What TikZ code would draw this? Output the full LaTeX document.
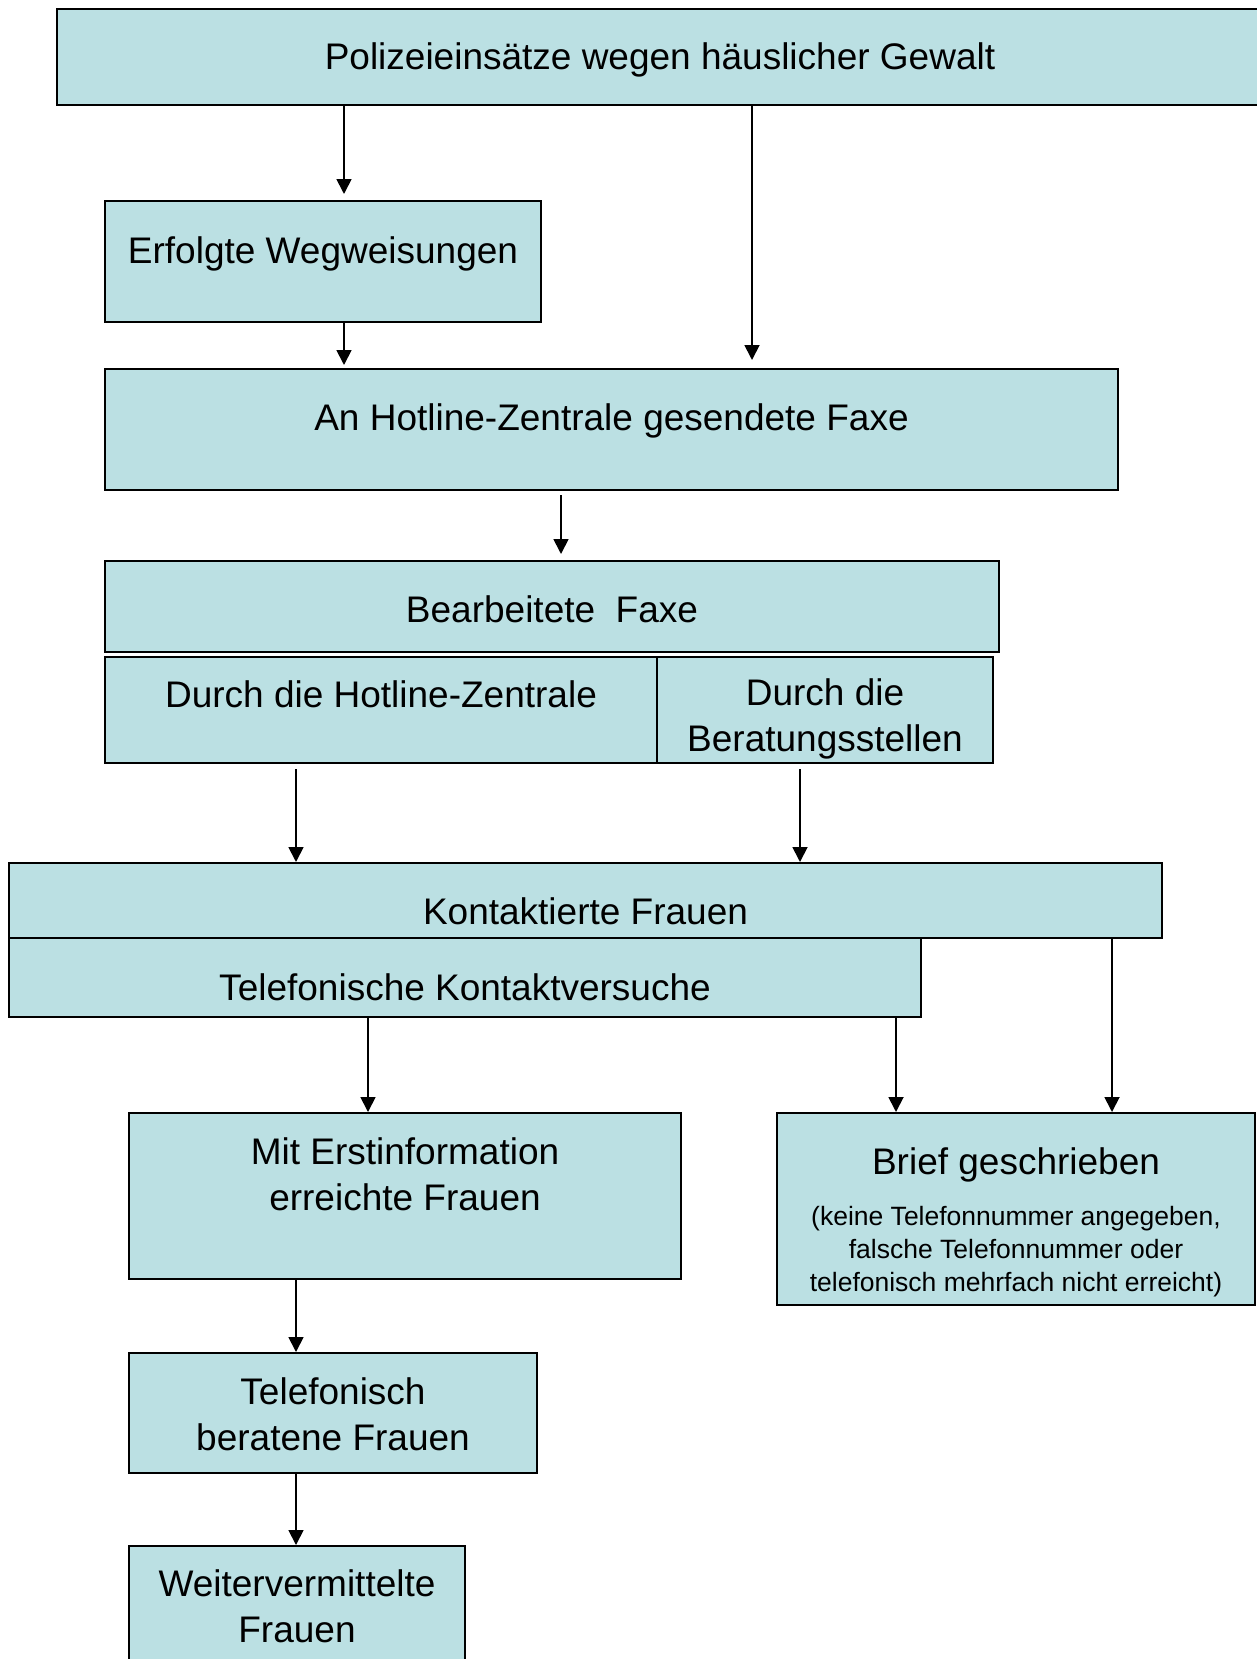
\documentclass[tikz,border=0pt]{standalone}
\usepackage{fontspec}
\setmainfont{Liberation Sans}
\usetikzlibrary{arrows.meta}
\definecolor{boxfill}{RGB}{187,224,227}
\newcommand{\boxfont}{\fontsize{37}{46}\selectfont}
\newcommand{\notefont}{\fontsize{26.5}{33}\selectfont}
\tikzstyle{box} = [rectangle, draw=black, line width=2pt, fill=boxfill, inner sep=0pt, anchor=north west, align=center, font=\boxfont]
\tikzstyle{arrow} = [line width=1.8pt, -{Triangle[length=15pt,width=15pt]}]

\begin{document}
\begin{tikzpicture}[x=1pt, y=-1pt]
   \useasboundingbox (0,0) rectangle (1256,1659);
   \node (einsatz) [box, minimum width=1206pt, minimum height=96pt, text height=61pt, text depth=35pt] at (56,8) {Polizeieinsätze wegen häuslicher Gewalt};
   \node (wegweis) [box, minimum width=436pt, minimum height=121pt, text height=62pt, text depth=59pt] at (104,200) {Erfolgte Wegweisungen};
   \node (faxe) [box, minimum width=1013pt, minimum height=121pt, text height=61pt, text depth=60pt] at (104,368) {An Hotline-Zentrale gesendete Faxe};
   \node (bearb) [box, minimum width=894pt, minimum height=91pt, text height=61pt, text depth=30pt] at (104,560) {Bearbeitete\ \ Faxe};
   \node (hotline) [box, minimum width=552pt, minimum height=106pt, text height=50pt, text depth=56pt] at (104,656) {Durch die Hotline-Zentrale};
   \node (beratung) [box, minimum width=336pt, minimum height=106pt, text height=94pt, text depth=12pt] at (656,656) {Durch die\\Beratungsstellen};
   \node (kontakt) [box, minimum width=1153pt, minimum height=75pt, text height=61pt, text depth=14pt] at (8,862) {Kontaktierte Frauen};
   \node (telkont) [box, minimum width=912pt, minimum height=79pt, text height=62pt, text depth=17pt] at (8,937) {Telefonische Kontaktversuche};
   \node (erst) [box, minimum width=552pt, minimum height=166pt, text height=97pt, text depth=69pt] at (128,1112) {Mit Erstinformation\\erreichte Frauen};
   \node (brief) [box, align=flush center, minimum width=478pt, minimum height=192pt, text width=470pt, text height=61pt, text depth=131pt] at (776,1112)
      {Brief geschrieben\par\vspace{18pt}{\notefont (keine Telefonnummer angegeben,\\falsche Telefonnummer oder\\telefonisch mehrfach nicht erreicht)\par}};
   \node (telber) [box, minimum width=408pt, minimum height=120pt, text height=97pt, text depth=23pt] at (128,1352) {Telefonisch\\beratene Frauen};
   \node (weiter) [box, minimum width=336pt, minimum height=140pt, text height=96pt, text depth=44pt] at (128,1545) {Weitervermittelte\\Frauen};

   \draw [arrow, shorten >=6pt] (einsatz.south -| 344,0) -- (wegweis.north -| 344,0);
   \draw [arrow, shorten >=8pt] (einsatz.south -| 752,0) -- (faxe.north -| 752,0);
   \draw [arrow, shorten >=3pt] (wegweis.south -| 344,0) -- (faxe.north -| 344,0);
   \draw [arrow, shorten <=4pt, shorten >=6pt] (faxe.south -| 561,0) -- (bearb.north -| 561,0);
   \draw [arrow, shorten <=5pt] (hotline.south -| 296,0) -- (kontakt.north -| 296,0);
   \draw [arrow, shorten <=5pt] (beratung.south -| 800,0) -- (kontakt.north -| 800,0);
   \draw [arrow] (telkont.south -| 368,0) -- (erst.north -| 368,0);
   \draw [arrow] (telkont.south -| 896,0) -- (brief.north -| 896,0);
   \draw [arrow] (kontakt.south -| 1112,0) -- (brief.north -| 1112,0);
   \draw [arrow] (erst.south -| 296,0) -- (telber.north -| 296,0);
   \draw [arrow] (telber.south -| 296,0) -- (weiter.north -| 296,0);
\end{tikzpicture}
\end{document}
